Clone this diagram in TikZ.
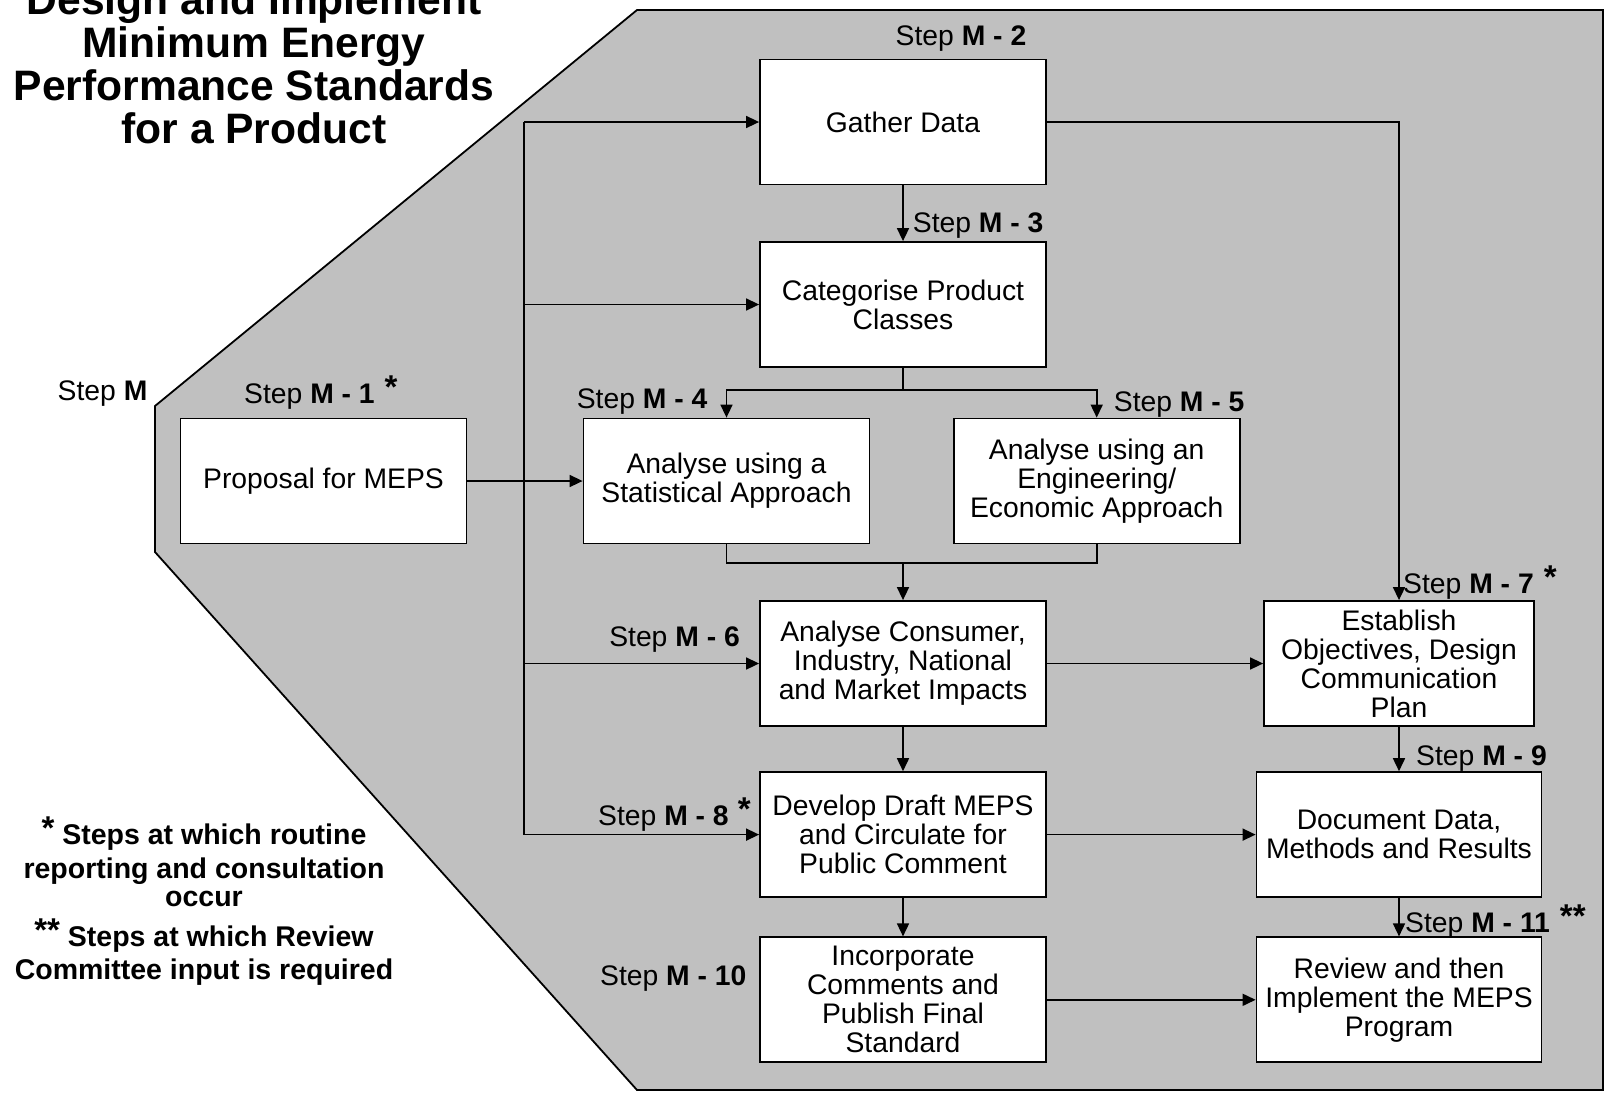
\documentclass[tikz,border=0pt]{standalone}
\usepackage{fontspec}
\setmainfont{Liberation Sans}
\usetikzlibrary{arrows.meta}
\definecolor{panel}{RGB}{192,192,192}
\newcommand{\bigstar}[1]{\raisebox{5pt}{\fontsize{33}{33}\selectfont\bfseries #1}}
\begin{document}
\begin{tikzpicture}[x=1pt,y=-1pt,
  box/.style={draw=black, fill=white, line width=1.8pt, minimum width=286pt, minimum height=125pt, inner sep=0pt, align=center, font=\fontsize{28.3}{29}\selectfont},
  lbl/.style={inner sep=0pt, font=\fontsize{28.3}{29}\selectfont},
  legend/.style={inner sep=0pt, align=center, font=\fontsize{28.5}{28}\selectfont\bfseries},
  conn/.style={line width=1.6pt},
  arr/.style={conn, -{Triangle[length=13pt,width=12pt]}},
]
\useasboundingbox (0,0) rectangle (1608,1096);
% background panel
\draw[fill=panel, line width=1.8pt] (637,10) -- (1603,10) -- (1603,1090) -- (637,1090) -- (155,552) -- (155,406) -- cycle;

% title and legend
\node[inner sep=0pt, align=center, font=\fontsize{42.6}{43}\selectfont\bfseries] (title) at (254,63.5)
  {Design and Implement\\Minimum Energy\\Performance Standards\\for a Product};
\node[legend] (leg1) at (204,862)
  {\bigstar{*} Steps at which routine\\[6pt]reporting and consultation\\occur};
\node[legend] (leg2) at (204,951.8)
  {\bigstar{**} Steps at which Review\\[5pt]Committee input is required};

% boxes
\node[box] (gather) at (903,122) {Gather Data};
\node[box] (categ) at (903,304.5) {Categorise Product\\Classes};
\node[box] (prop) at (323.5,481) {Proposal for MEPS};
\node[box] (stat) at (726.5,481) {Analyse using a\\Statistical Approach};
\node[box] (eng) at (1096.7,481) {Analyse using an\\Engineering/\\Economic Approach};
\node[box] (cons) at (903,663.5) {Analyse Consumer,\\Industry, National\\and Market Impacts};
\node[box, minimum width=270pt] (estab) at (1399,663.5) {Establish\\Objectives, Design\\Communication\\Plan};
\node[box] (dev) at (903,834.6) {Develop Draft MEPS\\and Circulate for\\Public Comment};
\node[box, minimum width=285pt] (doc) at (1399,834.6) {Document Data,\\Methods and Results};
\node[box] (inc) at (903,999.8) {Incorporate\\Comments and\\Publish Final\\Standard};
\node[box, minimum width=285pt] (rev) at (1399,999.8) {Review and then\\Implement the MEPS\\Program};

% connectors
\coordinate (spineTop) at (524,122);
\coordinate (spineBot) at (524,834.6);
\draw[conn] (spineTop) -- (spineBot);
\draw[arr] (spineTop) -- (gather.west);
\draw[arr] (categ.west -| spineTop) -- (categ.west);
\draw[arr] (cons.west -| spineTop) -- (cons.west);
\draw[arr] (spineBot) -- (dev.west);
\draw[arr] (prop.east) -- (stat.west);
\draw[arr] (gather.south) -- (categ.north);
\draw[arr] (gather.east) -| (estab.north);
\coordinate (split) at (903,389.7);
\draw[conn] (categ.south) -- (split);
\draw[arr] (split) -| (stat.north);
\draw[arr] (split) -| (eng.north);
\coordinate (merge) at (903,563);
\draw[conn] (stat.south) |- (merge);
\draw[conn] (eng.south) |- (merge);
\draw[arr] (merge) -- (cons.north);
\draw[arr] (cons.east) -- (estab.west);
\draw[arr] (cons.south) -- (dev.north);
\draw[arr] (estab.south) -- (doc.north);
\draw[arr] (dev.east) -- (doc.west);
\draw[arr] (dev.south) -- (inc.north);
\draw[arr] (doc.south) -- (rev.north);
\draw[arr] (inc.east) -- (rev.west);

% step labels
\node[lbl, anchor=base] (lM2) at (961,45) {Step \textbf{M - 2}};
\node[lbl, anchor=base west] (lM3) at (912.7,232.5) {Step \textbf{M - 3}};
\node[lbl, anchor=base] (lM) at (102.5,400.7) {Step \textbf{M}};
\node[lbl, anchor=base west] (lM1) at (244,403.8) {Step \textbf{M - 1}\hspace{10pt}\bigstar{*}};
\node[lbl, anchor=base east] (lM4) at (707.6,408) {Step \textbf{M - 4}};
\node[lbl, anchor=base west] (lM5) at (1113.7,411) {Step \textbf{M - 5}};
\node[lbl, anchor=base east] (lM6) at (740,646.8) {Step \textbf{M - 6}};
\node[lbl, anchor=base west] (lM7) at (1403,593.5) {Step \textbf{M - 7}\hspace{10pt}\bigstar{*}};
\node[lbl, anchor=base west] (lM8) at (598,825) {Step \textbf{M - 8}\hspace{9pt}\bigstar{*}};
\node[lbl, anchor=base west] (lM9) at (1416,765.8) {Step \textbf{M - 9}};
\node[lbl, anchor=base east] (lM10) at (746.6,985) {Step \textbf{M - 10}};
\node[lbl, anchor=base west] (lM11) at (1405,932) {Step \textbf{M - 11}\hspace{10pt}\bigstar{**}};
\end{tikzpicture}
\end{document}
